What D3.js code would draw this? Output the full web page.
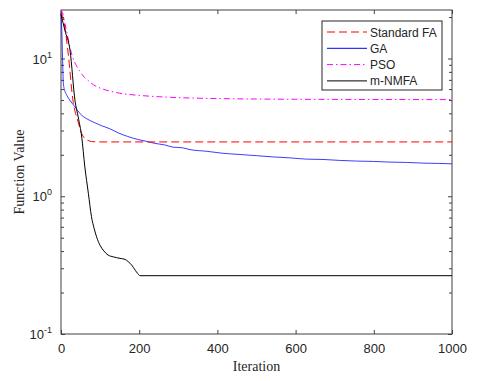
<!DOCTYPE html>
<html>
<head>
<meta charset="utf-8">
<script src="https://cdn.jsdelivr.net/npm/d3@7"></script>
<style>
  body { margin: 0; background: #fff; }
  svg { display: block; }
</style>
</head>
<body>
<div class="chart"></div>
<script>
// series
const faIter = [0, 6, 19, 30, 44, 53, 60, 66, 74, 82, 100, 1000];
const faValue = [21.5, 19.4, 10.5, 5.1, 3.45, 2.85, 2.65, 2.57, 2.51, 2.49, 2.48, 2.48];

const gaIter = [0, 2, 4, 6, 10, 15, 23, 36, 49, 66, 83, 104, 125, 147, 170, 197, 220, 240, 265, 287, 310, 330, 373, 415, 458, 500, 543, 585, 628, 670, 714, 756, 799, 841, 884, 926, 969, 1000];
const gaValue = [21.5, 16, 10, 6.6, 5.8, 5.4, 4.96, 4.45, 3.97, 3.65, 3.45, 3.25, 3.09, 2.88, 2.72, 2.58, 2.5, 2.42, 2.36, 2.27, 2.25, 2.18, 2.12, 2.05, 2.01, 1.97, 1.93, 1.9, 1.86, 1.85, 1.82, 1.8, 1.79, 1.77, 1.76, 1.74, 1.73, 1.72];

const psoIter = [0, 5, 10, 16, 23, 31, 40, 49, 60, 70, 83, 100, 120, 150, 200, 250, 300, 400, 500, 600, 800, 1000];
const psoValue = [22.5, 21, 18, 15, 12, 10, 8.8, 8.0, 7.3, 6.9, 6.45, 6.1, 5.85, 5.6, 5.4, 5.28, 5.2, 5.12, 5.08, 5.06, 5.04, 5.03];

const nmIter = [0, 10, 23, 36, 44, 53, 61, 70, 78, 85, 91, 100, 108, 120, 134, 151, 164, 172, 181, 190, 196, 202, 1000];
const nmValue = [21, 16, 11.5, 4.9, 3.76, 2.69, 1.63, 1.05, 0.71, 0.58, 0.507, 0.44, 0.406, 0.375, 0.363, 0.354, 0.348, 0.335, 0.316, 0.29, 0.275, 0.265, 0.265];

const seriesNames = ["Standard FA", "GA", "PSO", "m-NMFA"];
const xTicks = [0, 200, 400, 600, 800, 1000];
const yMajor = [0.1, 1, 10];
const yExp = ["-1", "0", "1"];

const W = 488, H = 381;
const mLeft = 61, mRight = 452, mTop = 10, mBottom = 334;
const axisColor = "#404040", textColor = "#262626";

const svg = d3.select(".chart").append("svg")
  .attr("width", W)
  .attr("height", H);

const x = d3.scaleLinear().domain([0, 1000]).range([mLeft, mRight]);
const y = d3.scaleLog().domain([0.1, 22.5]).range([mBottom, mTop]);

// minor ticks of the log axis (2..9 in each decade)
const yMinor = [];
[0.1, 1, 10].forEach((d) => {
  for (let k = 2; k <= 9; k++) {
    if (d * k <= 22.5) yMinor.push(d * k);
  }
});

// axes
const fontSans = "'Liberation Sans', Arial, sans-serif";

svg.append("g")
  .attr("transform", `translate(0,${mBottom})`)
  .call(d3.axisBottom(x).tickValues(xTicks).tickFormat(d3.format("d")).tickSizeInner(-4).tickSizeOuter(0).tickPadding(10))
  .call((g) => g.select(".domain").remove())
  .call((g) => g.selectAll("line").attr("stroke", axisColor))
  .call((g) => g.selectAll("text")
    .attr("fill", textColor)
    .style("font-family", fontSans)
    .style("font-size", "13px"));

svg.append("g")
  .attr("transform", `translate(0,${mTop})`)
  .call(d3.axisTop(x).tickValues(xTicks).tickSizeInner(-4).tickSizeOuter(0).tickFormat(""))
  .call((g) => g.select(".domain").remove())
  .call((g) => g.selectAll("line").attr("stroke", axisColor));

[[mLeft, d3.axisLeft], [mRight, d3.axisRight]].forEach(([pos, ax]) => {
  svg.append("g")
    .attr("transform", `translate(${pos},0)`)
    .call(ax(y).tickValues(yMajor).tickSizeInner(-4).tickSizeOuter(0).tickFormat(""))
    .call((g) => g.select(".domain").remove())
    .call((g) => g.selectAll("line").attr("stroke", axisColor));
  svg.append("g")
    .attr("transform", `translate(${pos},0)`)
    .call(ax(y).tickValues(yMinor).tickSizeInner(-3).tickSizeOuter(0).tickFormat(""))
    .call((g) => g.select(".domain").remove())
    .call((g) => g.selectAll("line").attr("stroke", axisColor));
});

// y labels with superscripts
const yLab = svg.append("g")
  .style("font-family", fontSans)
  .attr("fill", textColor);

yMajor.forEach((d, i) => {
  const t = yLab.append("text")
    .attr("x", mLeft - 9)
    .attr("y", y(d) + 5)
    .attr("text-anchor", "end")
    .style("font-size", "13px");
  t.append("tspan").text("10");
  t.append("tspan")
    .attr("dy", -6)
    .style("font-size", "9px")
    .text(yExp[i]);
});

// box
svg.append("rect")
  .attr("x", mLeft)
  .attr("y", mTop)
  .attr("width", mRight - mLeft)
  .attr("height", mBottom - mTop)
  .attr("fill", "none")
  .attr("stroke", axisColor)
  .attr("stroke-width", 1);

// axis titles
svg.append("text")
  .attr("x", (mLeft + mRight) / 2)
  .attr("y", 371)
  .attr("text-anchor", "middle")
  .style("font-family", "'Liberation Serif', 'Times New Roman', serif")
  .style("font-size", "14px")
  .attr("fill", textColor)
  .text("Iteration");

svg.append("text")
  .attr("transform", `translate(24,${(mTop + mBottom) / 2}) rotate(-90)`)
  .attr("text-anchor", "middle")
  .style("font-family", "'Liberation Serif', 'Times New Roman', serif")
  .style("font-size", "14px")
  .attr("fill", textColor)
  .text("Function Value");

// lines
const series = [
  { name: seriesNames[0], iter: faIter, value: faValue, color: "#ff0000", dash: "8,4" },
  { name: seriesNames[1], iter: gaIter, value: gaValue, color: "#0000ff", dash: null },
  { name: seriesNames[2], iter: psoIter, value: psoValue, color: "#ff00ff", dash: "6,3,1.5,3" },
  { name: seriesNames[3], iter: nmIter, value: nmValue, color: "#000000", dash: null }
];

const line = d3.line()
  .x((d) => x(d[0]))
  .y((d) => y(d[1]))
  .curve(d3.curveMonotoneX);

const plot = svg.append("g");

// draw order: GA, PSO, FA, m-NMFA on top
[1, 2, 0, 3].forEach((i) => {
  const s = series[i];
  const pts = s.iter.map((it, j) => [it, s.value[j]]);
  plot.append("path")
    .datum(pts)
    .attr("d", line)
    .attr("fill", "none")
    .attr("stroke", s.color)
    .attr("stroke-width", i === 1 ? 0.9 : 1)
    .attr("stroke-opacity", i === 1 ? 0.85 : 1)
    .attr("stroke-dasharray", s.dash);
});

// legend
const lg = svg.append("g");
lg.append("rect")
  .attr("x", 322)
  .attr("y", 21)
  .attr("width", 120)
  .attr("height", 69)
  .attr("fill", "#fff")
  .attr("stroke", textColor)
  .attr("stroke-width", 1);

series.forEach((s, i) => {
  const yy = 32 + i * 16.3;
  lg.append("line")
    .attr("x1", 327)
    .attr("x2", 367)
    .attr("y1", yy)
    .attr("y2", yy)
    .attr("stroke", s.color)
    .attr("stroke-width", 1)
    .attr("stroke-dasharray", s.dash);
  lg.append("text")
    .attr("x", 370)
    .attr("y", yy + 4.5)
    .style("font-family", fontSans)
    .style("font-size", "12px")
    .attr("fill", textColor)
    .text(s.name);
});
</script>
</body>
</html>
